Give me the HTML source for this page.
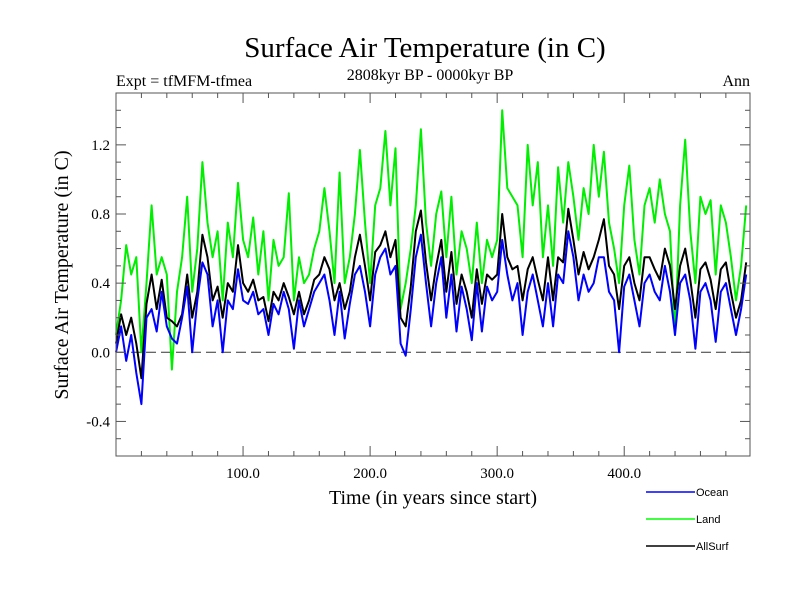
<!DOCTYPE html>
<html><head><meta charset="utf-8"><style>
html,body{margin:0;padding:0;background:#fff;}
svg{display:block;}
.serif{font-family:"Liberation Serif",serif;}
.sans{font-family:"Liberation Sans",sans-serif;}
</style></head><body>
<svg id="chart" width="800" height="600" viewBox="0 0 800 600">
<rect x="0" y="0" width="800" height="600" fill="#fff"/>
<text class="serif" x="425" y="57" font-size="29" text-anchor="middle">Surface Air Temperature (in C)</text>
<text class="serif" x="116" y="86" font-size="16">Expt = tfMFM-tfmea</text>
<text class="serif" x="430" y="80" font-size="16" text-anchor="middle">2808kyr BP - 0000kyr BP</text>
<text class="serif" x="750" y="86" font-size="16" text-anchor="end">Ann</text>
<text class="serif" x="0" y="0" font-size="20" text-anchor="middle" transform="translate(68,275) rotate(-90)">Surface Air Temperature (in C)</text>
<text class="serif" x="433" y="504" font-size="20" text-anchor="middle">Time (in years since start)</text>
<g id="plot"></g>
<g id="axes"></g>
<g>
<line x1="646" y1="492" x2="695" y2="492" stroke="#0000ff" stroke-width="1.5"/>
<text class="sans" x="696" y="496" font-size="11">Ocean</text>
<line x1="646" y1="519" x2="695" y2="519" stroke="#00ff00" stroke-width="1.5"/>
<text class="sans" x="696" y="523" font-size="11">Land</text>
<line x1="646" y1="546" x2="695" y2="546" stroke="#000" stroke-width="1.5"/>
<text class="sans" x="696" y="550" font-size="11">AllSurf</text>
</g>
</svg>
<script>
const years = [0,4,8,12,16,20,24,28,32,36,40,44,48,52,56,60,64,68,72,76,80,84,88,92,96,100,104,108,112,116,120,124,128,132,136,140,144,148,152,156,160,164,168,172,176,180,184,188,192,196,200,204,208,212,216,220,224,228,232,236,240,244,248,252,256,260,264,268,272,276,280,284,288,292,296,300,304,308,312,316,320,324,328,332,336,340,344,348,352,356,360,364,368,372,376,380,384,388,392,396,400,404,408,412,416,420,424,428,432,436,440,444,448,452,456,460,464,468,472,476,480,484,488,492,496];
const ocean = [0.00,0.15,-0.05,0.10,-0.12,-0.30,0.20,0.25,0.12,0.35,0.15,0.08,0.05,0.20,0.38,0.00,0.30,0.52,0.45,0.15,0.30,0.00,0.30,0.25,0.48,0.30,0.28,0.35,0.22,0.25,0.10,0.28,0.22,0.35,0.25,0.02,0.30,0.15,0.25,0.35,0.40,0.45,0.30,0.10,0.35,0.08,0.28,0.45,0.50,0.35,0.15,0.45,0.55,0.60,0.45,0.50,0.05,-0.02,0.25,0.55,0.68,0.40,0.15,0.40,0.55,0.20,0.45,0.12,0.38,0.25,0.07,0.40,0.12,0.38,0.30,0.35,0.65,0.45,0.30,0.40,0.10,0.35,0.45,0.30,0.15,0.40,0.15,0.45,0.40,0.70,0.55,0.30,0.45,0.35,0.40,0.55,0.55,0.35,0.30,0.00,0.38,0.45,0.30,0.15,0.40,0.45,0.35,0.30,0.50,0.35,0.10,0.40,0.45,0.30,0.02,0.35,0.40,0.30,0.06,0.35,0.40,0.25,0.10,0.25,0.45];
const allsurf = [0.05,0.22,0.10,0.20,0.05,-0.15,0.28,0.45,0.25,0.42,0.20,0.18,0.15,0.22,0.45,0.20,0.35,0.68,0.55,0.30,0.38,0.20,0.40,0.35,0.62,0.40,0.35,0.42,0.30,0.32,0.18,0.35,0.30,0.40,0.32,0.22,0.35,0.22,0.30,0.42,0.45,0.55,0.48,0.30,0.40,0.25,0.35,0.55,0.68,0.50,0.30,0.58,0.62,0.70,0.55,0.65,0.20,0.15,0.38,0.70,0.82,0.52,0.30,0.50,0.65,0.35,0.58,0.28,0.45,0.35,0.20,0.48,0.28,0.45,0.42,0.45,0.80,0.55,0.48,0.50,0.30,0.48,0.55,0.42,0.30,0.55,0.30,0.55,0.52,0.83,0.65,0.45,0.58,0.48,0.55,0.65,0.77,0.50,0.45,0.25,0.50,0.55,0.40,0.30,0.55,0.55,0.48,0.42,0.60,0.50,0.25,0.50,0.60,0.42,0.20,0.48,0.52,0.42,0.25,0.48,0.52,0.35,0.20,0.30,0.52];
const land = [0.10,0.30,0.62,0.45,0.55,0.00,0.40,0.85,0.45,0.55,0.45,-0.10,0.35,0.55,0.90,0.35,0.60,1.10,0.75,0.55,0.70,0.30,0.75,0.55,0.98,0.65,0.55,0.78,0.45,0.70,0.30,0.65,0.50,0.55,0.92,0.30,0.55,0.40,0.45,0.60,0.70,0.95,0.70,0.40,1.04,0.40,0.55,0.80,1.17,0.75,0.40,0.85,0.95,1.28,0.85,1.18,0.25,0.40,0.60,0.85,1.29,0.75,0.50,0.80,0.93,0.55,0.90,0.45,0.70,0.60,0.40,0.75,0.40,0.65,0.55,0.65,1.40,0.95,0.90,0.85,0.55,1.20,0.85,1.10,0.55,0.85,0.50,1.07,0.75,1.10,0.90,0.65,0.95,0.80,1.20,0.90,1.16,0.75,0.60,0.40,0.85,1.08,0.65,0.45,0.85,0.95,0.75,1.00,0.80,0.70,0.10,0.85,1.23,0.70,0.40,0.90,0.80,0.88,0.45,0.85,0.75,0.55,0.30,0.50,0.85];
const xTickLabels = ["100.0","200.0","300.0","400.0"];
const xTickValues = [100,200,300,400];
const yTickLabels = ["-0.4","0.0","0.4","0.8","1.2"];
const yTickValues = [-0.4,0.0,0.4,0.8,1.2];

const NS = "http://www.w3.org/2000/svg";
const L = 116, R = 750, T = 93, B = 456;
const XMIN = 0, XMAX = 499, YMIN = -0.6, YMAX = 1.5;
function xs(v){ return L + (v - XMIN) / (XMAX - XMIN) * (R - L); }
function ys(v){ return B - (v - YMIN) / (YMAX - YMIN) * (B - T); }
function mk(tag, attrs){ const e = document.createElementNS(NS, tag); for (const k in attrs) e.setAttribute(k, attrs[k]); return e; }

const plot = document.getElementById("plot");
const axes = document.getElementById("axes");

const zero = mk("line", {x1:L, x2:R, y1:ys(0), y2:ys(0), stroke:"#333", "stroke-width":1, "stroke-dasharray":"10,5"});


plot.appendChild(zero);

function series(vals, color, name){
  let d = "";
  vals.forEach((v, i) => { d += (i ? "L" : "M") + xs(years[i]).toFixed(1) + " " + ys(v).toFixed(1); });
  const p = mk("path", {d:d, fill:"none", stroke:color, "stroke-width":2, "stroke-linejoin":"round"});
  
  
  plot.appendChild(p);
}
series(land, "#00ee00", "land-line");
series(allsurf, "#000000", "allsurf-line");
series(ocean, "#0000ff", "ocean-line");

const frame = mk("rect", {x:L, y:T, width:R-L, height:B-T, fill:"none", stroke:"#555", "stroke-width":1});


axes.appendChild(frame);

for (let v = 20; v < XMAX; v += 20) {
  const major = v % 100 === 0;
  const len = major ? 10 : 5;
  const x = xs(v);
  const t1 = mk("line", {x1:x, x2:x, y1:B, y2:B-len, stroke:"#555"});
  
  
  axes.appendChild(t1);
  const t2 = mk("line", {x1:x, x2:x, y1:T, y2:T+len, stroke:"#555"});
  
  
  axes.appendChild(t2);
}
xTickValues.forEach((v, i) => {
  const t = mk("text", {x:xs(v), y:B+22, "font-size":15, "text-anchor":"middle", "font-family":"Liberation Serif, serif"});
  t.textContent = xTickLabels[i];
  
  
  axes.appendChild(t);
});
for (let k = -5; k <= 14; k++) {
  const v = k / 10;
  const major = k % 4 === 0;
  const len = major ? 10 : 5;
  const y = ys(v);
  const t1 = mk("line", {x1:L, x2:L+len, y1:y, y2:y, stroke:"#555"});
  
  
  axes.appendChild(t1);
  const t2 = mk("line", {x1:R, x2:R-len, y1:y, y2:y, stroke:"#555"});
  
  
  axes.appendChild(t2);
}
yTickValues.forEach((v, i) => {
  const t = mk("text", {x:L-6, y:ys(v)+5, "font-size":15, "text-anchor":"end", "font-family":"Liberation Serif, serif"});
  t.textContent = yTickLabels[i];
  
  
  axes.appendChild(t);
});
</script>
</body></html>
